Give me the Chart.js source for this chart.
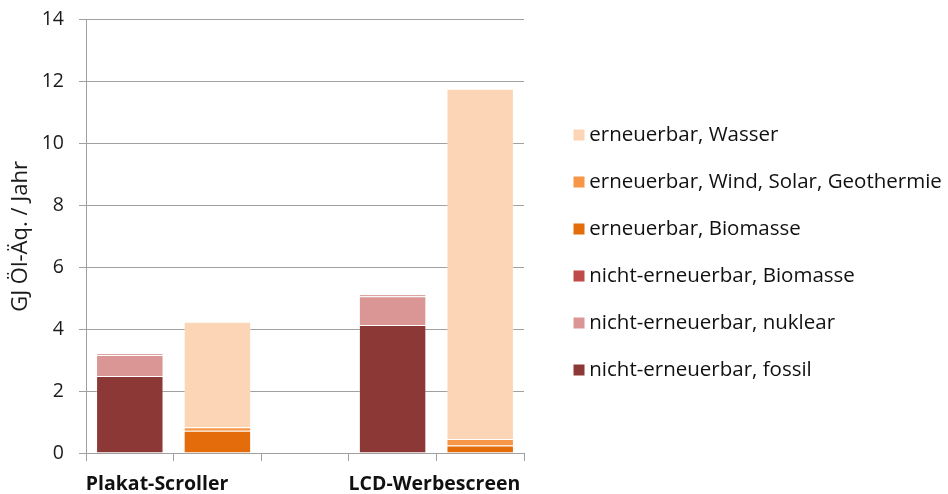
<!DOCTYPE html>
<html>
<head>
<meta charset="utf-8">
<script src="https://cdn.jsdelivr.net/npm/chart.js@4.4.1/dist/chart.umd.min.js"></script>
<style>
html,body{margin:0;padding:0;background:#fff;}
#wrap{width:948px;height:494px;}
</style>
</head>
<body>
<div id="wrap"><canvas id="c" width="948" height="494"></canvas></div>
<script>
const categories = ['Plakat-Scroller', '', '', 'LCD-Werbescreen', ''];
const yTicks = [0, 2, 4, 6, 8, 10, 12, 14];
const axisTitle = 'GJ Öl-Äq. / Jahr';

const nichtFossil   = [2.49, null, null, 4.14, null];
const nichtNuklear  = [0.68, null, null, 0.93, null];
const nichtBiomasse = [0.03, null, null, 0.04, null];
const ernBiomasse   = [null, 0.72, null, null, 0.24];
const ernWindSolar  = [null, 0.11, null, null, 0.21];
const ernWasser     = [null, 3.41, null, null, 11.32];

const seriesNames = [
  'nicht-erneuerbar, fossil',
  'nicht-erneuerbar, nuklear',
  'nicht-erneuerbar, Biomasse',
  'erneuerbar, Biomasse',
  'erneuerbar, Wind, Solar, Geothermie',
  'erneuerbar, Wasser'
];
const seriesData = [nichtFossil, nichtNuklear, nichtBiomasse, ernBiomasse, ernWindSolar, ernWasser];
const seriesColors = ['#8c3836', '#d99694', '#be4b48', '#e46c0a', '#f79646', '#fbd5b5'];

Chart.defaults.font.family = "'Open Sans', sans-serif";
Chart.defaults.color = '#1a1a1a';

const gridColor = '#a0a0a0';

new Chart(document.getElementById('c'), {
  type: 'bar',
  data: {
    labels: categories,
    datasets: seriesData.map((d, i) => ({
      label: seriesNames[i],
      data: d,
      backgroundColor: seriesColors[i],
      borderColor: 'rgba(255,255,255,0.25)',
      borderWidth: 1,
      categoryPercentage: 1.0,
      barPercentage: 0.77,
      stack: 's'
    }))
  },
  options: {
    responsive: false,
    animation: false,
    devicePixelRatio: 1,
    layout: { padding: { top: 11, bottom: 0, left: 0, right: 0 } },
    plugins: {
      tooltip: { enabled: false },
      legend: {
        position: 'right',
        reverse: true,
        maxWidth: 395.5,
        labels: {
          usePointStyle: true,
          pointStyle: 'rect',
          boxWidth: 0.01,
          boxHeight: 11,
          padding: 26.5,
          color: '#111',
          font: { size: 20.5 },
          generateLabels: chart => {
            const items = Chart.defaults.plugins.legend.labels.generateLabels(chart);
            items.forEach(it => { it.lineWidth = 0; it.strokeStyle = 'rgba(0,0,0,0)'; });
            return items;
          }
        }
      }
    },
    scales: {
      x: {
        stacked: true,
        offset: true,
        grid: {
          offset: true,
          drawOnChartArea: false,
          color: gridColor,
          tickLength: 8,
          tickColor: gridColor
        },
        border: { color: gridColor },
        ticks: {
          autoSkip: false,
          maxRotation: 0,
          align: 'start',
          labelOffset: -44,
          padding: 12,
          color: '#111',
          font: { size: 19.5, weight: 'bold' }
        },
        afterFit: s => { s.height = 41; }
      },
      y: {
        stacked: true,
        min: 0,
        max: 14,
        afterBuildTicks: s => { s.ticks = yTicks.map(v => ({ value: v })); },
        grid: { color: gridColor, tickLength: 7 },
        border: { color: gridColor },
        ticks: { padding: 15, color: '#1a1a1a', font: { size: 19.5, lineHeight: 0.5 } },
        title: {
          display: true,
          text: axisTitle,
          color: '#1a1a1a',
          font: { size: 22 },
          padding: { top: 8, bottom: 0 }
        },
        afterFit: s => { s.width = 86; }
      },
      spacer: {
        position: 'right',
        display: true,
        min: 0,
        max: 1,
        grid: { display: false, drawOnChartArea: false },
        border: { display: false },
        ticks: { display: false },
        afterFit: s => { s.width = 28.5; }
      }
    }
  }
});
</script>
</body>
</html>
